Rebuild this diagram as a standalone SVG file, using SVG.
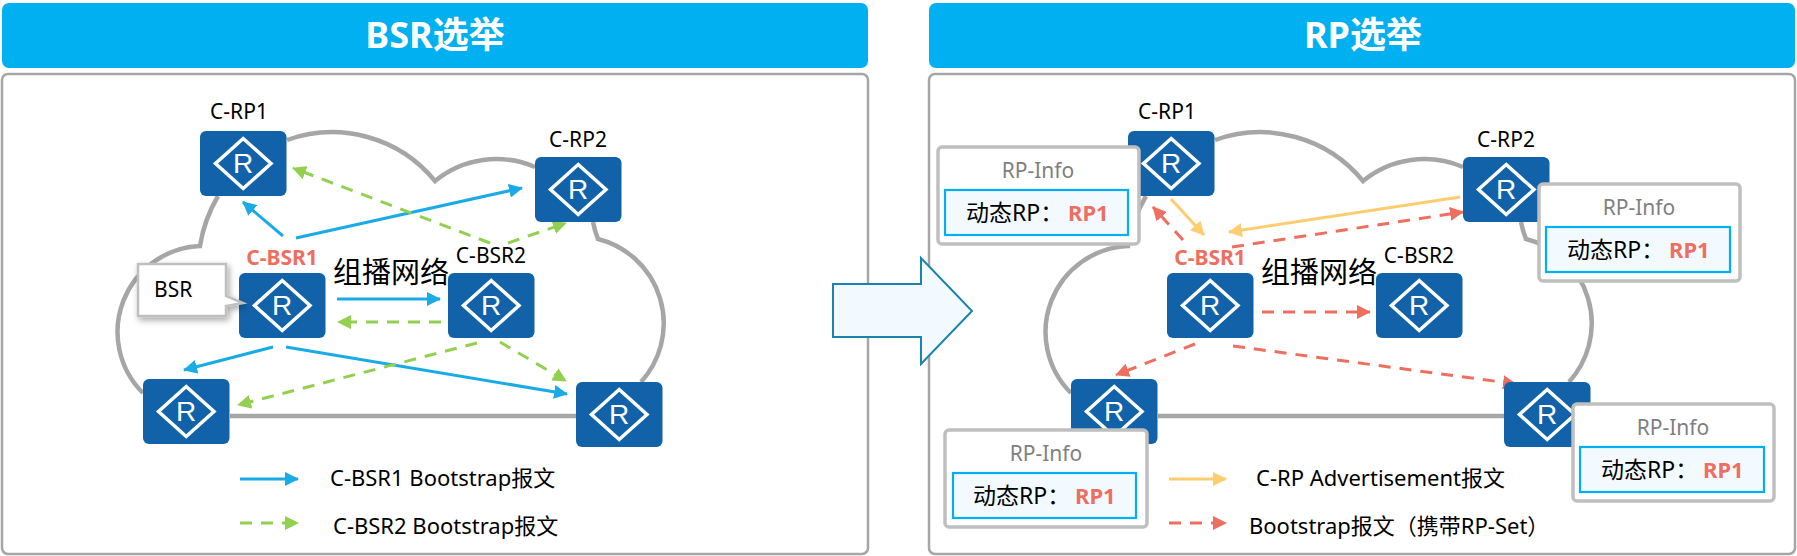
<svg xmlns="http://www.w3.org/2000/svg" xmlns:xlink="http://www.w3.org/1999/xlink" width="1797" height="556" viewBox="0 0 1797 556">
<style>
text{font-family:"Noto Sans","Noto Sans CJK SC",sans-serif;fill:#000}
.hd{fill:#00b0f0}
.panel{fill:#fff;stroke:#a6a6a6;stroke-width:2.5}
.title{font-size:36px;font-weight:700;fill:#fff;text-anchor:middle}
.lbl{font-size:21px;text-anchor:middle}
.red{font-size:21px;font-weight:700;fill:#ee6f5f;text-anchor:middle}
.net{font-size:29px;font-family:"Noto Sans CJK SC",sans-serif}
.leg{font-size:22px}
.rbody{fill:#1262a9}
.rdia{fill:none;stroke:#fff;stroke-width:3.5}
.rtx{font-family:"Liberation Sans",sans-serif;font-size:28px;fill:#fff;text-anchor:middle}
.info{fill:#fff;stroke:#bfbfbf;stroke-width:3.5}
.inner{fill:#f2faff;stroke:#00b0f0;stroke-width:2.2}
.ititle{font-size:21px;fill:#7f7f7f;text-anchor:middle}
.ival{font-size:23px}
.irp{font-size:22px;font-weight:700;fill:#ee6f5f}
.cloud{fill:none;stroke:#a6a6a6;stroke-width:4.5}
.c{fill:none;stroke-width:3}
.blue{stroke:#1aabe6;marker-end:url(#mb)}
.green{stroke:#92d050;stroke-dasharray:12 9;marker-end:url(#mg)}
.yel{stroke:#ffcc70;marker-end:url(#my)}
.rd{stroke:#ee6f5f;stroke-dasharray:12 9;marker-end:url(#mr)}
</style>
<defs>
<marker id="mb" markerUnits="userSpaceOnUse" markerWidth="14" markerHeight="14" viewBox="0 0 14 14" refX="13" refY="7" orient="auto"><path d="M0 0L14 7L0 14z" fill="#1aabe6"/></marker>
<marker id="mg" markerUnits="userSpaceOnUse" markerWidth="14" markerHeight="14" viewBox="0 0 14 14" refX="13" refY="7" orient="auto"><path d="M0 0L14 7L0 14z" fill="#92d050"/></marker>
<marker id="my" markerUnits="userSpaceOnUse" markerWidth="14" markerHeight="14" viewBox="0 0 14 14" refX="13" refY="7" orient="auto"><path d="M0 0L14 7L0 14z" fill="#ffcc70"/></marker>
<marker id="mr" markerUnits="userSpaceOnUse" markerWidth="14" markerHeight="14" viewBox="0 0 14 14" refX="13" refY="7" orient="auto"><path d="M0 0L14 7L0 14z" fill="#ee6f5f"/></marker>
<g id="router"><rect class="rbody" x="0" y="0" width="86.500" height="65" rx="6"/><path class="rdia" d="M43.200 7.500L71 32.500L43.200 57.500L15.500 32.500z"/></g>
<path id="cl" class="cloud" d="M287 140A133 133 0 0 1 435 181A97 97 0 0 1 535 167M593 222Q595 232 598 239A87 87 0 0 1 641 382M576 416H230M143 393A86 86 0 0 1 200 246Q204 220 218 196"/>
<filter id="sh" x="-20%" y="-20%" width="150%" height="150%"><feDropShadow dx="2" dy="3" stdDeviation="3" flood-color="#000" flood-opacity=".35"/></filter>
</defs>

<g id="left-panel"><rect class="hd" x="2" y="3" width="866" height="65" rx="7"/><rect class="panel" x="2" y="74" width="866" height="480" rx="6"/><text class="title" x="435" y="48">BSR选举</text></g>
<g id="right-panel"><rect class="hd" x="929" y="3" width="866" height="65" rx="7"/><rect class="panel" x="929" y="74" width="866" height="480" rx="6"/><text class="title" x="1363" y="48">RP选举</text></g>

<use href="#cl" xlink:href="#cl"/>
<use href="#cl" xlink:href="#cl" x="928"/>

<g id="connectors">
<path class="c blue" d="M283 236L243 202"/>
<path class="c blue" d="M296 238L522 188"/>
<path class="c blue" d="M337 299H440"/>
<path class="c blue" d="M273 347L184 370"/>
<path class="c blue" d="M286 347L567 394"/>
<path class="c green" d="M490 243L293 168"/>
<path class="c green" d="M508 243L566 223"/>
<path class="c green" d="M441 322H338"/>
<path class="c green" d="M477 343L238 405"/>
<path class="c green" d="M500 342L566 381"/>
<path class="c blue" d="M240 479H298"/>
<path class="c green" d="M240 523H298"/>
<path class="c yel" d="M1171 199L1204 235"/>
<path class="c yel" d="M1460 197L1229 232"/>
<path class="c rd" d="M1183 240L1153 207"/>
<path class="c rd" d="M1232 247L1463 212"/>
<path class="c rd" d="M1262 312H1370"/>
<path class="c rd" d="M1195 344L1116 375"/>
<path class="c rd" d="M1233 346L1516 384"/>
<path class="c yel" d="M1169 479H1226"/>
<path class="c rd" d="M1169 523H1226"/>
</g>

<g id="l-crp1"><use href="#router" xlink:href="#router" x="200" y="131"/><text class="rtx" x="243" y="173">R</text><text class="lbl" x="239" y="119">C-RP1</text></g>
<g id="l-crp2"><use href="#router" xlink:href="#router" x="535" y="157"/><text class="rtx" x="578" y="199">R</text><text class="lbl" x="578" y="147">C-RP2</text></g>
<g id="l-cbsr1"><use href="#router" xlink:href="#router" x="239" y="273"/><text class="rtx" x="282" y="315">R</text><text class="red" x="282" y="265">C-BSR1</text></g>
<g id="l-cbsr2"><use href="#router" xlink:href="#router" x="448" y="273"/><text class="rtx" x="491" y="315">R</text><text class="lbl" x="491" y="263">C-BSR2</text></g>
<g id="l-r5"><use href="#router" xlink:href="#router" x="143" y="379"/><text class="rtx" x="186" y="421">R</text></g>
<g id="l-r6"><use href="#router" xlink:href="#router" x="576" y="382"/><text class="rtx" x="619" y="424">R</text></g>
<g id="bsr-callout"><path d="M138 264H226V296L243 303L226 306V316H138z" fill="#fff" stroke="#bfbfbf" stroke-width="2.500" filter="url(#sh)"/><text class="lbl" x="154" y="297" style="text-anchor:start">BSR</text></g>
<text class="net" x="333" y="283">组播网络</text>
<text class="leg" x="330" y="486">C-BSR1 Bootstrap报文</text>
<text class="leg" x="333" y="534">C-BSR2 Bootstrap报文</text>

<g id="transition-arrow"><path d="M833 284H921V258L972 311L921 364V337H833z" fill="#f2faff" stroke="#1a84ae" stroke-width="2"/></g>

<g id="r-crp1"><use href="#router" xlink:href="#router" x="1128" y="131"/><text class="rtx" x="1171" y="173">R</text><text class="lbl" x="1167" y="119">C-RP1</text></g>
<g id="r-crp2"><use href="#router" xlink:href="#router" x="1463" y="157"/><text class="rtx" x="1506" y="199">R</text><text class="lbl" x="1506" y="147">C-RP2</text></g>
<g id="r-cbsr1"><use href="#router" xlink:href="#router" x="1167" y="273"/><text class="rtx" x="1210" y="315">R</text><text class="red" x="1210" y="265">C-BSR1</text></g>
<g id="r-cbsr2"><use href="#router" xlink:href="#router" x="1376" y="273"/><text class="rtx" x="1419" y="315">R</text><text class="lbl" x="1419" y="263">C-BSR2</text></g>
<g id="r-r5"><use href="#router" xlink:href="#router" x="1071" y="379"/><text class="rtx" x="1114" y="421">R</text></g>
<g id="r-r6"><use href="#router" xlink:href="#router" x="1504" y="382"/><text class="rtx" x="1547" y="424">R</text></g>
<text class="net" x="1261" y="283">组播网络</text>
<text class="leg" x="1256" y="486">C-RP Advertisement报文</text>
<text class="leg" x="1249" y="534">Bootstrap报文（携带RP-Set）</text>

<g id="info1"><rect class="info" x="938" y="147" width="201" height="97" rx="4"/><rect class="inner" x="945" y="190" width="183" height="45"/><text class="ititle" x="1038" y="178">RP-Info</text><text class="ival" x="966" y="221">动态RP：</text><text class="irp" x="1068" y="221">RP1</text></g>
<g id="info2"><rect class="info" x="1539" y="184" width="201" height="97" rx="4"/><rect class="inner" x="1546" y="227" width="184" height="45"/><text class="ititle" x="1639" y="215">RP-Info</text><text class="ival" x="1567" y="258">动态RP：</text><text class="irp" x="1669" y="258">RP1</text></g>
<g id="info3"><rect class="info" x="945" y="430" width="202" height="97" rx="4"/><rect class="inner" x="953" y="473" width="183" height="45"/><text class="ititle" x="1046" y="461">RP-Info</text><text class="ival" x="973" y="504">动态RP：</text><text class="irp" x="1075" y="504">RP1</text></g>
<g id="info4"><rect class="info" x="1573" y="404" width="201" height="97" rx="4"/><rect class="inner" x="1580" y="447" width="184" height="45"/><text class="ititle" x="1673" y="435">RP-Info</text><text class="ival" x="1601" y="478">动态RP：</text><text class="irp" x="1703" y="478">RP1</text></g>
</svg>
